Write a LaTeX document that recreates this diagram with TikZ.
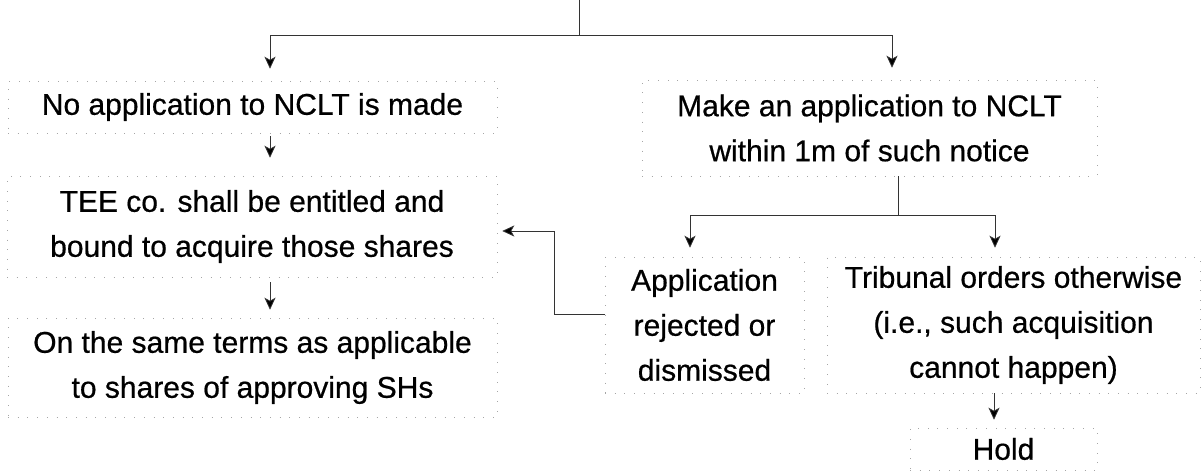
\documentclass[tikz,border=0pt]{standalone}
\usepackage{fontspec}
\setmainfont[FakeBold=0.6]{Liberation Sans}
\usetikzlibrary{arrows.meta,calc}
\begin{document}
\begin{tikzpicture}[x=1pt,y=-1pt,
  box/.style={draw=black!35, line width=0.5pt, dash pattern=on 0.7pt off 9pt,
              align=center, inner sep=0pt, font=\fontsize{30}{45}\selectfont},
  link/.style={draw=black!80, line width=0.8pt},
  arr/.style={link, -{Stealth[length=12pt,width=11pt,inset=3pt,fill=black]}}]
\useasboundingbox (0,0) rectangle (1202,473);

% left column
\node[box, minimum width=489pt, minimum height=52pt] (na) at (252.5,107)
  {No application to NCLT is made};
\node[box, minimum width=490pt, minimum height=101pt] (tee) at (252,226.5)
  {TEE co. shall be entitled and\\bound to acquire those shares};
\node[box, minimum width=489pt, minimum height=99pt] (same) at (252.5,367.5)
  {On the same terms as applicable\\to shares of approving SHs};

% right column
\node[box, minimum width=455pt, minimum height=96pt] (make) at (869.5,128)
  {Make an application to NCLT\\within 1m of such notice};
\node[box, minimum width=199pt, minimum height=136pt] (appl) at (704.5,325)
  {Application\\rejected or\\dismissed};
\node[box, minimum width=373pt, minimum height=136pt] (trib) at (1013.5,325)
  {Tribunal orders otherwise\\(i.e., such acquisition\\cannot happen)};
\node[box, minimum width=187pt, minimum height=42pt] (hold) at (1003.5,449)
  {Hold};

% incoming line from above and the first split
\coordinate (topin) at (579,0);
\coordinate (split) at (579,35);
\draw[link] (topin) -- (split);
\draw[arr, shorten >=12pt] (split) -| ($(na.north)+(17.5,0)$);
\draw[arr, shorten >=12pt] (split) -| ($(make.north)+(22.5,0)$);

% left chain
\draw[arr, shorten <=3pt, shorten >=18pt] ($(na.south)+(17.5,0)$) -- ($(tee.north)+(18,0)$);
\draw[arr, shorten <=5pt, shorten >=8pt] ($(tee.south)+(18,0)$) -- ($(same.north)+(17.5,0)$);

% split after the application
\draw[link] ($(make.south)+(28.5,0)$) -- ++(0,39) coordinate (fork);
\draw[arr, shorten >=9pt] (fork) -| ($(appl.north)+(-14.5,0)$);
\draw[arr, shorten >=9pt] (fork) -| ($(trib.north)+(-18.5,0)$);

% rejected application leads back to acquisition
\draw[arr, shorten >=5pt] ($(appl.west)+(0,-11)$) -- ++(-50,0) |- ($(tee.east)+(0,4.5)$);

% tribunal order
\draw[arr, shorten >=8pt] ($(trib.south)+(-19.5,0)$) -- ($(hold.north)+(-9.5,0)$);
\end{tikzpicture}
\end{document}
